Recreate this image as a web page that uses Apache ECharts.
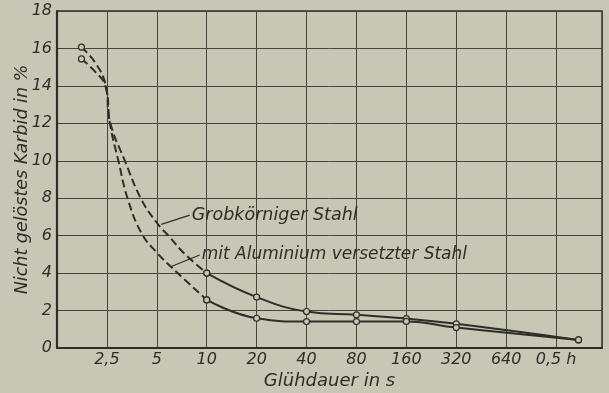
<!DOCTYPE html>
<html>
<head>
<meta charset="utf-8">
<script src="https://cdn.jsdelivr.net/npm/echarts@6/dist/echarts.min.js"></script>
<style>
html,body{margin:0;padding:0;background:#c6c7b5;}
#c{width:609px;height:393px;}
</style>
</head>
<body>
<div id="c"></div>
<script>
// x positions: 1 = 2,5 s, 2 = 5 s, 3 = 10 s ... 10 = 0,5 h (doubling steps)
const xTickLabels = ['', '2,5', '5', '10', '20', '40', '80', '160', '320', '640', '0,5 h'];
const yTicks = [0, 2, 4, 6, 8, 10, 12, 14, 16, 18];

// Grobkörniger Stahl
const grobDashedX = [0.49, 0.75, 0.97, 1.06, 1.36, 1.69, 2.0, 2.25, 2.55, 3];
const grobDashedY = [16.07, 15.3, 14.1, 12.1, 10.0, 7.94, 6.69, 5.95, 5.05, 4.0];
const grobSolidX = [3, 4, 5, 6, 7, 8, 10.45];
const grobSolidY = [4.0, 2.72, 1.95, 1.77, 1.57, 1.29, 0.43];

// mit Aluminium versetzter Stahl
const aluDashedX = [0.49, 0.75, 0.97, 1.06, 1.23, 1.42, 1.7, 2.0, 2.3, 3];
const aluDashedY = [15.44, 14.8, 14.0, 12.0, 10.0, 7.94, 6.1, 5.1, 4.3, 2.57];
const aluSolidX = [3, 4, 5, 6, 7, 8, 10.45];
const aluSolidY = [2.57, 1.59, 1.41, 1.41, 1.42, 1.09, 0.43];

// measured points (circles)
const grobMarkedX = [0.49, 3, 4, 5, 6, 7, 8, 10.45];
const aluMarkedX = [0.49, 3, 4, 5, 6, 7, 8, 10.45];

const labelGrob = 'Grobkörniger Stahl';
const labelAlu = 'mit Aluminium versetzter Stahl';
const xTitle = 'Glühdauer in s';
const yTitle = 'Nicht gelöstes Karbid in %';

const INK = '#2e2e29';
const FONT = "'DejaVu Sans',sans-serif";

function pts(xs, ys, marked) {
  return xs.map((x, i) => ({
    value: [x, ys[i]],
    symbol: marked.indexOf(x) >= 0 ? 'circle' : 'none'
  }));
}

function lineSeries(name, data, type) {
  return {
    name: name, type: 'line', smooth: 0.45, data: data,
    symbolSize: 6,
    itemStyle: { color: '#c6c7b5', borderColor: INK, borderWidth: 1.2 },
    lineStyle: { color: INK, width: 2, type: type === 'dashed' ? [8, 4] : 'solid' },
    z: 3
  };
}

const chart = echarts.init(document.getElementById('c'), null, { renderer: 'canvas' });
chart.setOption({
  backgroundColor: '#c6c7b5',
  animation: false,
  grid: { left: 57, right: 7, top: 11, bottom: 45, show: true, borderColor: INK, borderWidth: 1.5,
          containLabel: false, outerBoundsMode: 'none' },
  xAxis: {
    type: 'value', min: 0, max: 10.92, interval: 1,
    name: xTitle, nameLocation: 'middle', nameGap: 24, nameMoveOverlap: false,
    nameTextStyle: { fontFamily: FONT, fontStyle: 'italic', fontSize: 18, color: INK },
    axisLine: { show: true, lineStyle: { color: INK, width: 2.2 } },
    axisTick: { show: false },
    axisLabel: {
      fontFamily: FONT, fontStyle: 'italic', fontSize: 16, color: INK, margin: 4,
      formatter: v => xTickLabels[Math.round(v)] || ''
    },
    splitLine: { show: true, lineStyle: { color: '#45453e', width: 1 } }
  },
  yAxis: {
    type: 'value', min: yTicks[0], max: yTicks[yTicks.length - 1], interval: 2,
    name: yTitle, nameLocation: 'middle', nameGap: 26, nameRotate: 90, nameMoveOverlap: false,
    nameTextStyle: { fontFamily: FONT, fontStyle: 'italic', fontSize: 17.5, color: INK },
    axisLine: { show: true, lineStyle: { color: INK, width: 2.2 } },
    axisTick: { show: false },
    axisLabel: { fontFamily: FONT, fontStyle: 'italic', fontSize: 16, color: INK, margin: 5 },
    splitLine: { show: true, lineStyle: { color: '#45453e', width: 1 } }
  },
  series: [
    lineSeries(labelGrob, pts(grobDashedX, grobDashedY, grobMarkedX), 'dashed'),
    lineSeries(labelGrob, pts(grobSolidX, grobSolidY, grobMarkedX), 'solid'),
    lineSeries(labelAlu, pts(aluDashedX, aluDashedY, aluMarkedX), 'dashed'),
    lineSeries(labelAlu, pts(aluSolidX, aluSolidY, aluMarkedX), 'solid')
  ]
});

// annotations with leader lines
function px(p) { return chart.convertToPixel({ gridIndex: 0 }, p); }
const gA = px([2.09, 6.6]), gB = px([2.66, 7.1]);
const aA = px([2.29, 4.35]), aB = px([2.86, 4.97]);
chart.setOption({
  graphic: [
    { type: 'line', shape: { x1: gA[0], y1: gA[1], x2: gB[0], y2: gB[1] }, style: { stroke: INK, lineWidth: 1.2 }, z: 10 },
    { type: 'line', shape: { x1: aA[0], y1: aA[1], x2: aB[0], y2: aB[1] }, style: { stroke: INK, lineWidth: 1.2 }, z: 10 },
    { type: 'text', x: gB[0] + 2, y: gB[1], style: { text: labelGrob, fill: INK, font: 'italic 17.5px ' + FONT, textVerticalAlign: 'middle', textAlign: 'left' }, z: 10 },
    { type: 'text', x: aB[0] + 2, y: aB[1], style: { text: labelAlu, fill: INK, font: 'italic 17px ' + FONT, textVerticalAlign: 'middle', textAlign: 'left' }, z: 10 }
  ]
});
</script>
</body>
</html>
